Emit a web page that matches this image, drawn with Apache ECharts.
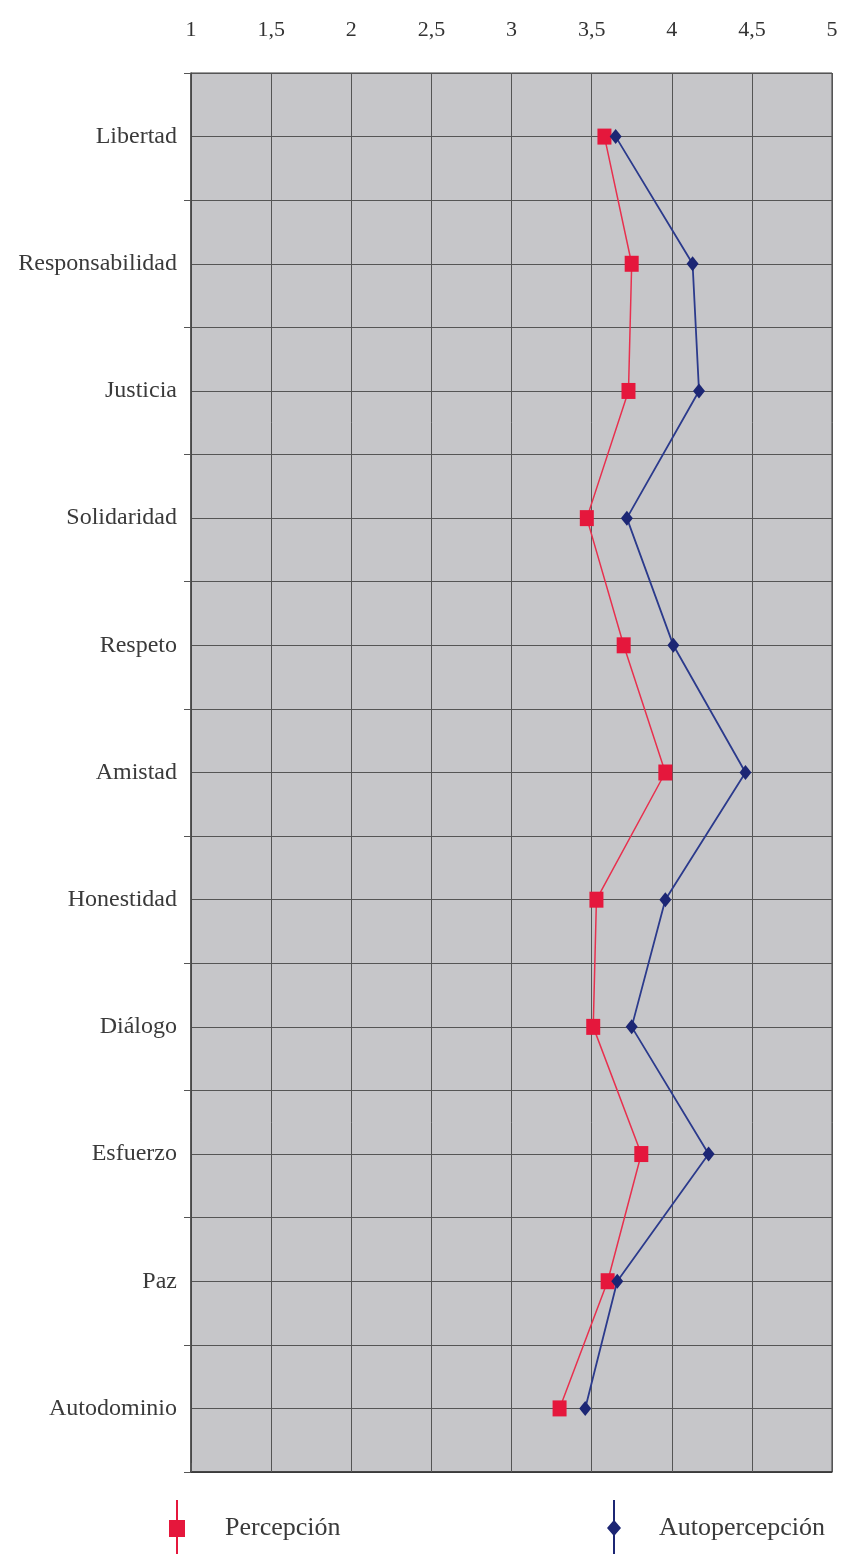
<!DOCTYPE html>
<html>
<head>
<meta charset="utf-8">
<script src="https://cdn.jsdelivr.net/npm/echarts@6/dist/echarts.min.js"></script>
<style>html,body{margin:0;padding:0;background:#fff;}#c{width:844px;height:1554px;}</style>
</head>
<body>
<div id="c"></div>
<script>
var categories = ['Libertad','Responsabilidad','Justicia','Solidaridad','Respeto','Amistad','Honestidad','Diálogo','Esfuerzo','Paz','Autodominio'];
var percepcion = [3.58, 3.75, 3.73, 3.47, 3.70, 3.96, 3.53, 3.51, 3.81, 3.60, 3.30];
var autopercepcion = [3.65, 4.13, 4.17, 3.72, 4.01, 4.46, 3.96, 3.75, 4.23, 3.66, 3.46];
var xTicks = [1, 1.5, 2, 2.5, 3, 3.5, 4, 4.5, 5];

var serif = '"Liberation Serif", "DejaVu Serif", serif';
var chart = echarts.init(document.getElementById('c'));
chart.setOption({
  animation: false,
  grid: {left: 191, right: 12, top: 73, bottom: 82, show: true, backgroundColor: '#c6c6c9', borderColor: '#3c3c3c', borderWidth: 1},
  xAxis: {
    type: 'value', position: 'top', min: xTicks[0], max: xTicks[xTicks.length-1], interval: 0.5,
    axisLine: {show: true, lineStyle: {color: '#333', width: 1.5}},
    axisTick: {show: true, length: 9, lineStyle: {color: '#555'}},
    splitLine: {show: true, lineStyle: {color: '#555', width: 1}},
    axisLabel: {margin: 32, color: '#333', fontFamily: serif, fontSize: 22,
      formatter: function (v) { return String(v).replace('.', ','); }}
  },
  yAxis: [{
    type: 'category', inverse: true, data: categories, boundaryGap: true,
    axisLine: {show: true, lineStyle: {color: '#444', width: 1.5}},
    axisTick: {show: true, length: 7, lineStyle: {color: '#555'}},
    splitLine: {show: false},
    axisLabel: {margin: 14, color: '#3a3a3a', fontFamily: serif, fontSize: 24}
  }, {
    type: 'value', min: 0, max: 22, interval: 1, position: 'right',
    axisLine: {show: false}, axisTick: {show: false}, axisLabel: {show: false},
    splitLine: {show: true, lineStyle: {color: '#555', width: 1}}
  }],
  legend: [{
    data: ['Percepción'], left: 164, top: 1495, itemWidth: 16, itemHeight: 56,
    icon: 'path://M7,0L9,0L9,20L16,20L16,37L9,37L9,56L7,56L7,37L0,37L0,20L7,20Z',
    textStyle: {fontFamily: serif, fontSize: 26, color: '#3a3a3a', padding: [0, 0, 0, 35]}
  }, {
    data: ['Autopercepción'], left: 602, top: 1495, itemWidth: 16, itemHeight: 56,
    icon: 'path://M7,0L9,0L9,21L15,28L9,35L9,56L7,56L7,35L1,28L7,21Z',
    textStyle: {fontFamily: serif, fontSize: 26, color: '#3a3a3a', padding: [0, 0, 0, 32]}
  }],
  series: [{
    name: 'Percepción', type: 'line', yAxisIndex: 0, data: percepcion,
    symbol: 'rect', symbolSize: [14, 16],
    itemStyle: {color: '#e5173c'}, lineStyle: {color: '#e8304e', width: 1.5}, z: 3
  }, {
    name: 'Autopercepción', type: 'line', yAxisIndex: 0, data: autopercepcion,
    symbol: 'diamond', symbolSize: [12, 15],
    itemStyle: {color: '#1c2674'}, lineStyle: {color: '#2b3a8c', width: 1.8}, z: 4
  }]
});
</script>
</body>
</html>
